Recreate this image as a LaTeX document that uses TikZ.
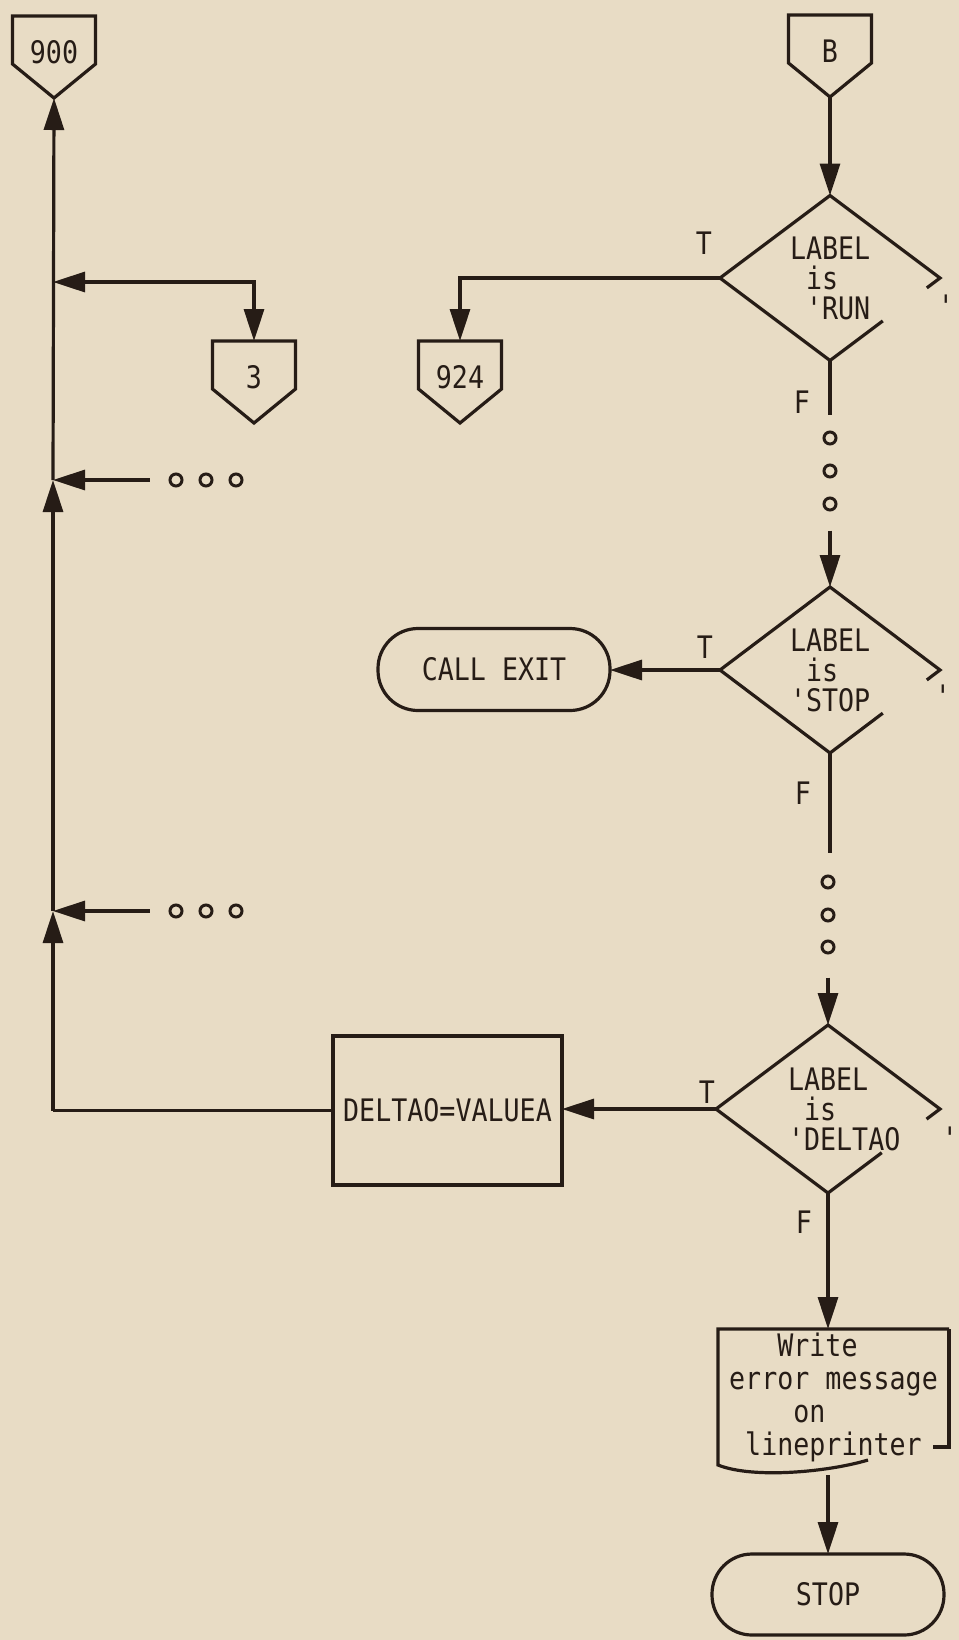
\documentclass[tikz,border=0pt]{standalone}
\usepackage{fontspec}
\newfontfamily\flowfont{DejaVu Sans Mono}[FakeStretch=0.86, Ligatures=TeXOff]
\usetikzlibrary{arrows.meta,calc}
\definecolor{paper}{RGB}{232,220,197}
\definecolor{ink}{RGB}{38,28,22}

\begin{document}
\begin{tikzpicture}[x=0.5pt, y=-0.5pt,
    line/.style={draw=ink, line width=1.6pt},
    arr/.style={line, -{Triangle[length=16pt, width=10pt]}},
    arrboth/.style={line, {Triangle[length=16pt, width=10pt]}-{Triangle[length=16pt, width=10pt]}},
    txt/.style={text=ink, font=\flowfont\fontsize{15.5pt}{15pt}\selectfont, inner sep=0pt, outer sep=0pt},
    offpage/.style={txt, minimum width=41.5pt, minimum height=41pt, text height=11pt, text depth=5pt},
    decision/.style={txt, minimum width=110pt, minimum height=82.5pt, text width=40pt, align=left},
    term/.style={txt, line, rounded corners=20pt, minimum width=116pt, minimum height=41pt},
    proc/.style={txt, line, minimum width=114.5pt, minimum height=74.5pt},
    docu/.style={txt, font=\flowfont\fontsize{15.5pt}{16.5pt}\selectfont, align=left, minimum width=115.5pt, minimum height=68pt},
    dot/.style={circle, draw=ink, line width=1.5pt, minimum size=6pt, inner sep=0pt},
    lbl/.style={txt}
]
\fill[paper, use as bounding box] (0,0) rectangle (959,1640);

\node[offpage] (c900) at (54,57) {900};
\node[offpage] (cB) at (830,56) {B};
\node[offpage] (c3) at (254,382) {3};
\node[offpage] (c924) at (460,382) {924};

\node[decision] (d1) at (830,278) {LABEL\\\hphantom{x}is\\\hphantom{x}'RUN};
\node[decision, minimum height=83pt] (d2) at (830,670) {LABEL\\\hphantom{x}is\\'STOP};
\node[decision, minimum width=112pt, minimum height=84pt] (d3) at (828,1109) {LABEL\\\hphantom{x}is\\\mbox{'DELTAO}};

\node[term] (callexit) at (494,669.5) {CALL EXIT};
\node[proc] (assign) at (447.5,1110.5) {DELTAO=VALUEA};
\node[docu] (doc) at (833.5,1397) {\hphantom{xxx}Write\\error message\\\hphantom{xxxx}on\\\hphantom{x}lineprinter};
\node[term, minimum height=40.5pt] (stop) at (828,1594.5) {STOP};

\node[lbl] (t1) at ($(d1.west)+(-16,-35)$) {T};
\node[lbl] (t2) at ($(d2.west)+(-15,-23)$) {T};
\node[lbl] (t3) at ($(d3.west)+(-9,-17)$) {T};
\node[lbl] (f1) at ($(d1.south)+(-28,42)$) {F};
\node[lbl] (f2) at ($(d2.south)+(-27,40)$) {F};
\node[lbl] (f3) at ($(d3.south)+(-24,29)$) {F};
\node[lbl, anchor=base] (q1) at ($(d1.east)+(6,39)$) {'};
\node[lbl, anchor=base] (q2) at ($(d2.east)+(3,37)$) {'};
\node[lbl, anchor=base] (q3) at ($(d3.east)+(10,40)$) {'};

\foreach \x [count=\i] in {176,206,236} {
  \node[dot] (da\i) at (\x,480) {};
  \node[dot] (db\i) at (\x,911) {};
}
\foreach \y [count=\i] in {438,471,504} \node[dot] (ra\i) at (830,\y) {};
\foreach \y [count=\i] in {882,915,947} \node[dot] (rb\i) at (828,\y) {};

\coordinate (j1) at (53,282);
\coordinate (j2) at (53,480);
\coordinate (j3) at (53,911);
\coordinate (j4) at (53,1110.5);

\foreach \n in {c900,cB,c3,c924}
  \draw[line] (\n.north west) -- (\n.north east) -- ($(\n.north east)+(0,48)$) -- (\n.south) -- ($(\n.north west)+(0,48)$) -- cycle;
\foreach \n in {d1,d2,d3}
  \draw[line] ($(\n.south)!0.48!(\n.east)$) -- (\n.south) -- (\n.west) -- (\n.north) -- (\n.east) -- ($(\n.east)!0.12!(\n.south)$);
\draw[line] (doc.north east) -- (doc.north west) -- (doc.south west) .. controls +(35,14) and +(-40,12) .. ($(doc.south west)+(150,-5)$);
\draw[line] (doc.north east) -- ($(doc.north east)+(0,118)$) -- ++(-16,0);

\draw[arr] (cB.south) -- (d1.north);
\draw[arr] (d1.west) -| (c924.north);
\draw[line] (d1.south) -- ([yshift=8pt]ra1.north);
\draw[arr] ([yshift=-9.5pt]ra3.south) -- (d2.north);
\draw[arr] (d2.west) -- (d2.west -| callexit.east);
\draw[line] (d2.south) -- ([yshift=11pt]rb1.north -| d2.south);
\draw[arr] ([yshift=-11.5pt]rb3.south) -- (d3.north);
\draw[arr] (d3.west) -- (d3.west -| assign.east);
\draw[arr] (d3.south) -- (d3.south |- doc.north);
\draw[arr] ($(doc.south -| stop.north)+(0,10)$) -- (stop.north);

\draw[arrboth] (c3.north) |- (j1);
\draw[arr] ([xshift=-9.5pt]da1.west) -- (j2);
\draw[arr] ([xshift=-9.5pt]db1.west) -- (j3);
\draw[line] (assign.west) -- (j4);
\draw[arr] (j4) -- (j3);
\draw[arr] (j3) -- (j2);
\draw[arr] (j2) -- (c900.south);
\end{tikzpicture}
\end{document}
